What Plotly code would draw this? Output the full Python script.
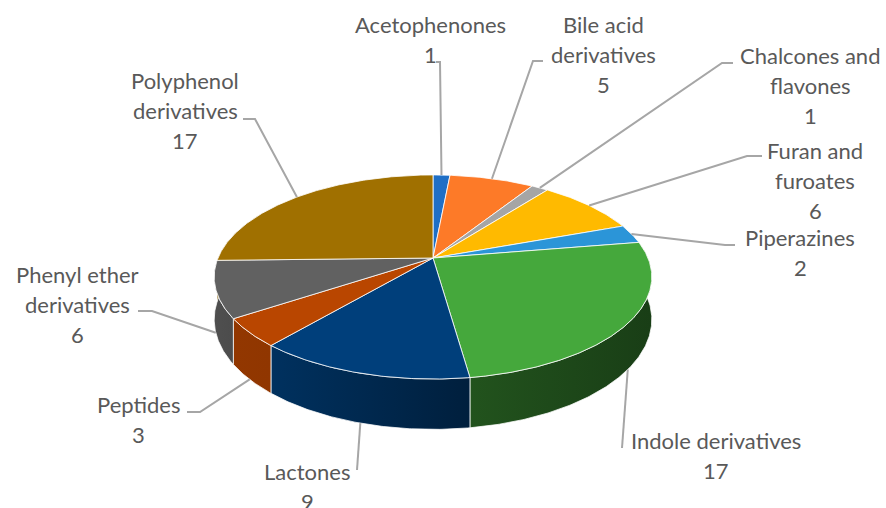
import numpy as np
import plotly.graph_objects as go

# ---- data ----
categories = [
    "Acetophenones", "Bile acid derivatives", "Chalcones and flavones",
    "Furan and furoates", "Piperazines", "Indole derivatives", "Lactones",
    "Peptides", "Phenyl ether derivatives", "Polyphenol derivatives",
]
counts = [1, 5, 1, 6, 2, 17, 9, 3, 6, 17]
name_lines = [
    ["Acetophenones"], ["Bile acid", "derivatives"], ["Chalcones and", "flavones"],
    ["Furan and", "furoates"], ["Piperazines"], ["Indole derivatives"], ["Lactones"],
    ["Peptides"], ["Phenyl ether", "derivatives"], ["Polyphenol", "derivatives"],
]
slice_colors = [
    "#1F6FC6", "#FD7A28", "#A5A5A5", "#FFBA00", "#2B95D8",
    "#45A83C", "#003F7B", "#B94600", "#616161", "#A07000",
]

# ---- label layout: text centre x, first baseline y, leader elbow, stub end ----
label_pos = [(430, 32), (603, 32), (810, 63), (815, 158), (800, 245),
             (716, 448), (307, 479), (138, 412), (77, 282), (185, 88)]
leader_elbow = [(440, 62), (533, 61), (722, 63), (747, 156), (725, 245),
                (622, 448), (357, 470), (200, 412), (152, 311), (255, 119)]
leader_end = [(436, 62), (543, 61), (733, 63), (762, 156), (735, 245),
              (622, 448), (357, 470), (187, 412), (138, 311), (243, 119)]

# ---- perspective projection of the tilted pie ----
CX, CY = 433.0, 258.0   # pie centre on screen
A, B = 215.0, 98.5      # horizontal / depth radii
D = 41.0                # thickness
P = 0.186               # perspective strength


def project(theta_deg, h=0.0):
    t = np.radians(theta_deg)
    u = np.sin(t)
    v = -np.cos(t)
    w = 1.0 - P * v
    return CX + A * u / w, CY + (B * v + D * h) / w


def shade(hex_color, f):
    r, g, b = (int(hex_color[i:i + 2], 16) for i in (1, 3, 5))
    return "rgb(%d,%d,%d)" % (r * f, g * f, b * f)


def side_factor(theta):
    return float(np.interp(theta, [60, 90, 150, 180, 220, 270, 300],
                           [0.36, 0.38, 0.44, 0.52, 0.78, 0.82, 0.82]))


total = float(sum(counts))
edges = np.concatenate([[0.0], np.cumsum(counts) / total * 360.0])

fig = go.Figure()

# side walls (front part only; the rest is hidden by the top face)
for i, col in enumerate(slice_colors):
    a0, a1 = max(edges[i], 60.0), min(edges[i + 1], 300.0)
    if a1 <= a0:
        continue
    th = np.linspace(a0, a1, max(int((a1 - a0) * 2), 4))
    xt, yt = project(th, 0.0)
    xb, yb = project(th[::-1], 1.0)
    xs = np.concatenate([xt, xb, xt[:1]])
    ys = np.concatenate([yt, yb, yt[:1]])
    # left end of the wall is the larger angle on the front half
    left_c = shade(col, side_factor(a1))
    right_c = shade(col, side_factor(a0))
    fig.add_trace(go.Scatter(
        x=xs, y=ys, mode="lines", fill="toself",
        fillgradient=dict(type="horizontal",
                          colorscale=[[0, left_c], [1, right_c]]),
        line=dict(color="rgba(255,255,255,0.75)", width=1),
        hoverinfo="skip", showlegend=False,
    ))

# top faces
for i, col in enumerate(slice_colors):
    th = np.linspace(edges[i], edges[i + 1], max(int((edges[i + 1] - edges[i]) * 2), 3))
    xa, ya = project(th, 0.0)
    xs = np.concatenate([[CX], xa, [CX]])
    ys = np.concatenate([[CY], ya, [CY]])
    fig.add_trace(go.Scatter(
        x=xs, y=ys, mode="lines", fill="toself", fillcolor=col,
        line=dict(color="rgba(255,255,255,0.8)", width=1),
        hoverinfo="skip", showlegend=False, name=categories[i],
    ))

# leader lines from each slice's rim to its label
for i in range(len(counts)):
    mid = (edges[i] + edges[i + 1]) / 2.0
    h = 1.0 if np.cos(np.radians(mid)) < 0 else 0.0
    sx, sy = project(mid, h)
    ex, ey = leader_elbow[i]
    tx, ty = leader_end[i]
    fig.add_trace(go.Scatter(
        x=[sx, ex, tx], y=[sy, ey, ty], mode="lines",
        line=dict(color="#A6A6A6", width=2),
        hoverinfo="skip", showlegend=False,
    ))

# data labels: category name lines followed by the count
FS = 22
for i in range(len(counts)):
    lines = name_lines[i] + [str(counts[i])]
    cx, base = label_pos[i]
    for k, txt in enumerate(lines):
        fig.add_annotation(
            x=cx, y=base + 30 * k - 8, xref="x", yref="y",
            text=txt, showarrow=False, xanchor="center", yanchor="middle",
            font=dict(family="Lato", size=FS, color="#595959"),
        )

fig.update_layout(
    width=886, height=508,
    margin=dict(l=0, r=0, t=0, b=0),
    paper_bgcolor="white", plot_bgcolor="white",
    xaxis=dict(range=[0, 886], visible=False, fixedrange=True),
    yaxis=dict(range=[508, 0], visible=False, fixedrange=True),
    showlegend=False,
)

fig.write_html("out.html")
